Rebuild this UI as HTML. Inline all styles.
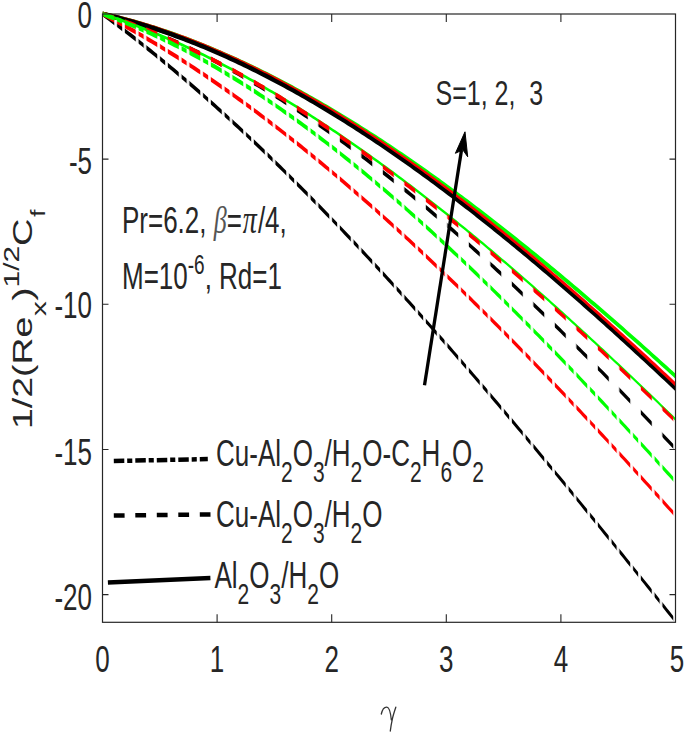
<!DOCTYPE html><html><head><meta charset="utf-8"><style>html,body{margin:0;padding:0;background:#fff;}svg{display:block;}text{font-family:"Liberation Sans",sans-serif;fill:#262626;}.s{font-family:"Liberation Serif",serif;font-style:italic;}</style></head><body>
<svg width="685" height="735" viewBox="0 0 685 735">
<rect width="685" height="735" fill="#fff"/>
<defs>
<pattern id="pdd" x="102.5" y="0" width="21.5" height="735" patternUnits="userSpaceOnUse"><rect x="0.8" y="0" width="11.0" height="735" fill="#fff"/><rect x="14.5" y="0" width="5.2" height="735" fill="#fff"/></pattern>
<pattern id="pda" x="102.5" y="0" width="21.5" height="735" patternUnits="userSpaceOnUse"><rect x="0.8" y="0" width="11.0" height="735" fill="#fff"/></pattern>
<mask id="mdd" maskUnits="userSpaceOnUse" x="0" y="0" width="685" height="735"><rect x="0" y="0" width="685" height="735" fill="url(#pdd)"/></mask>
<mask id="mda" maskUnits="userSpaceOnUse" x="0" y="0" width="685" height="735"><rect x="0" y="0" width="685" height="735" fill="url(#pda)"/></mask>
<clipPath id="ax"><rect x="102.5" y="10" width="573" height="612.3"/></clipPath>
</defs>
<g clip-path="url(#ax)">
<path d="M102.50,11.50 L105.38,12.15 L108.26,12.82 L111.14,13.50 L114.02,14.20 L116.90,14.91 L119.78,15.64 L122.66,16.39 L125.54,17.14 L128.41,17.92 L131.29,18.71 L134.17,19.51 L137.05,20.33 L139.93,21.17 L142.81,22.02 L145.69,22.88 L148.57,23.76 L151.45,24.66 L154.33,25.57 L157.21,26.49 L160.09,27.43 L162.97,28.38 L165.85,29.35 L168.73,30.33 L171.61,31.33 L174.48,32.34 L177.36,33.36 L180.24,34.40 L183.12,35.46 L186.00,36.52 L188.88,37.60 L191.76,38.70 L194.64,39.81 L197.52,40.93 L200.40,42.07 L203.28,43.22 L206.16,44.38 L209.04,45.56 L211.92,46.75 L214.80,47.95 L217.68,49.17 L220.56,50.40 L223.43,51.65 L226.31,52.90 L229.19,54.17 L232.07,55.46 L234.95,56.76 L237.83,58.07 L240.71,59.39 L243.59,60.72 L246.47,62.07 L249.35,63.44 L252.23,64.81 L255.11,66.20 L257.99,67.60 L260.87,69.01 L263.75,70.43 L266.63,71.87 L269.51,73.32 L272.38,74.78 L275.26,76.25 L278.14,77.74 L281.02,79.24 L283.90,80.75 L286.78,82.27 L289.66,83.81 L292.54,85.35 L295.42,86.91 L298.30,88.48 L301.18,90.06 L304.06,91.65 L306.94,93.26 L309.82,94.88 L312.70,96.50 L315.58,98.14 L318.45,99.79 L321.33,101.46 L324.21,103.13 L327.09,104.81 L329.97,106.51 L332.85,108.22 L335.73,109.93 L338.61,111.66 L341.49,113.40 L344.37,115.15 L347.25,116.91 L350.13,118.68 L353.01,120.47 L355.89,122.26 L358.77,124.06 L361.65,125.88 L364.53,127.70 L367.40,129.54 L370.28,131.38 L373.16,133.24 L376.04,135.11 L378.92,136.98 L381.80,138.87 L384.68,140.76 L387.56,142.67 L390.44,144.59 L393.32,146.51 L396.20,148.45 L399.08,150.39 L401.96,152.35 L404.84,154.31 L407.72,156.29 L410.60,158.27 L413.47,160.26 L416.35,162.27 L419.23,164.28 L422.11,166.30 L424.99,168.33 L427.87,170.37 L430.75,172.42 L433.63,174.48 L436.51,176.54 L439.39,178.62 L442.27,180.71 L445.15,182.80 L448.03,184.90 L450.91,187.01 L453.79,189.13 L456.67,191.26 L459.55,193.40 L462.42,195.54 L465.30,197.69 L468.18,199.86 L471.06,202.03 L473.94,204.20 L476.82,206.39 L479.70,208.59 L482.58,210.79 L485.46,213.00 L488.34,215.22 L491.22,217.44 L494.10,219.68 L496.98,221.92 L499.86,224.17 L502.74,226.43 L505.62,228.69 L508.49,230.96 L511.37,233.24 L514.25,235.53 L517.13,237.83 L520.01,240.13 L522.89,242.44 L525.77,244.75 L528.65,247.08 L531.53,249.41 L534.41,251.75 L537.29,254.09 L540.17,256.44 L543.05,258.80 L545.93,261.16 L548.81,263.54 L551.69,265.91 L554.57,268.30 L557.44,270.69 L560.32,273.09 L563.20,275.49 L566.08,277.90 L568.96,280.32 L571.84,282.74 L574.72,285.17 L577.60,287.61 L580.48,290.05 L583.36,292.50 L586.24,294.95 L589.12,297.41 L592.00,299.88 L594.88,302.35 L597.76,304.83 L600.64,307.31 L603.52,309.80 L606.39,312.29 L609.27,314.79 L612.15,317.29 L615.03,319.80 L617.91,322.32 L620.79,324.84 L623.67,327.36 L626.55,329.89 L629.43,332.43 L632.31,334.97 L635.19,337.52 L638.07,340.07 L640.95,342.62 L643.83,345.18 L646.71,347.75 L649.59,350.32 L652.46,352.89 L655.34,355.47 L658.22,358.06 L661.10,360.64 L663.98,363.24 L666.86,365.83 L669.74,368.43 L672.62,371.04 L675.50,373.65 L675.50,378.65 L672.62,376.04 L669.74,373.43 L666.86,370.83 L663.98,368.24 L661.10,365.64 L658.22,363.06 L655.34,360.47 L652.46,357.89 L649.59,355.32 L646.71,352.75 L643.83,350.18 L640.95,347.62 L638.07,345.07 L635.19,342.52 L632.31,339.97 L629.43,337.43 L626.55,334.89 L623.67,332.36 L620.79,329.84 L617.91,327.32 L615.03,324.80 L612.15,322.29 L609.27,319.79 L606.39,317.29 L603.52,314.80 L600.64,312.31 L597.76,309.83 L594.88,307.35 L592.00,304.88 L589.12,302.41 L586.24,299.95 L583.36,297.50 L580.48,295.05 L577.60,292.61 L574.72,290.17 L571.84,287.74 L568.96,285.32 L566.08,282.90 L563.20,280.49 L560.32,278.09 L557.44,275.69 L554.57,273.30 L551.69,270.91 L548.81,268.54 L545.93,266.16 L543.05,263.80 L540.17,261.44 L537.29,259.09 L534.41,256.75 L531.53,254.41 L528.65,252.08 L525.77,249.75 L522.89,247.44 L520.01,245.13 L517.13,242.83 L514.25,240.53 L511.37,238.24 L508.49,235.96 L505.62,233.69 L502.74,231.43 L499.86,229.17 L496.98,226.92 L494.10,224.68 L491.22,222.44 L488.34,220.22 L485.46,218.00 L482.58,215.79 L479.70,213.59 L476.82,211.39 L473.94,209.20 L471.06,207.03 L468.18,204.86 L465.30,202.69 L462.42,200.54 L459.55,198.40 L456.67,196.26 L453.79,194.13 L450.91,192.01 L448.03,189.90 L445.15,187.80 L442.27,185.71 L439.39,183.62 L436.51,181.54 L433.63,179.48 L430.75,177.42 L427.87,175.37 L424.99,173.33 L422.11,171.30 L419.23,169.28 L416.35,167.27 L413.47,165.26 L410.60,163.27 L407.72,161.29 L404.84,159.31 L401.96,157.35 L399.08,155.39 L396.20,153.45 L393.32,151.51 L390.44,149.59 L387.56,147.67 L384.68,145.76 L381.80,143.87 L378.92,141.98 L376.04,140.11 L373.16,138.24 L370.28,136.38 L367.40,134.54 L364.53,132.70 L361.65,130.88 L358.77,129.06 L355.89,127.26 L353.01,125.47 L350.13,123.68 L347.25,121.91 L344.37,120.15 L341.49,118.40 L338.61,116.66 L335.73,114.93 L332.85,113.22 L329.97,111.51 L327.09,109.81 L324.21,108.13 L321.33,106.46 L318.45,104.79 L315.58,103.14 L312.70,101.50 L309.82,99.88 L306.94,98.26 L304.06,96.65 L301.18,95.06 L298.30,93.48 L295.42,91.91 L292.54,90.35 L289.66,88.81 L286.78,87.27 L283.90,85.75 L281.02,84.24 L278.14,82.74 L275.26,81.25 L272.38,79.78 L269.51,78.32 L266.63,76.87 L263.75,75.43 L260.87,74.01 L257.99,72.60 L255.11,71.20 L252.23,69.81 L249.35,68.44 L246.47,67.07 L243.59,65.72 L240.71,64.39 L237.83,63.07 L234.95,61.76 L232.07,60.46 L229.19,59.17 L226.31,57.90 L223.43,56.65 L220.56,55.40 L217.68,54.17 L214.80,52.95 L211.92,51.75 L209.04,50.56 L206.16,49.38 L203.28,48.22 L200.40,47.07 L197.52,45.93 L194.64,44.81 L191.76,43.70 L188.88,42.60 L186.00,41.52 L183.12,40.46 L180.24,39.40 L177.36,38.36 L174.48,37.34 L171.61,36.33 L168.73,35.33 L165.85,34.35 L162.97,33.38 L160.09,32.43 L157.21,31.49 L154.33,30.57 L151.45,29.66 L148.57,28.76 L145.69,27.88 L142.81,27.02 L139.93,26.17 L137.05,25.33 L134.17,24.51 L131.29,23.71 L128.41,22.92 L125.54,22.14 L122.66,21.39 L119.78,20.64 L116.90,19.91 L114.02,19.20 L111.14,18.50 L108.26,17.82 L105.38,17.15 L102.50,16.50 Z" fill="#00ff00"/>
<path d="M102.50,11.60 L105.38,12.24 L108.26,12.90 L111.14,13.58 L114.02,14.27 L116.90,14.98 L119.78,15.71 L122.66,16.45 L125.54,17.20 L128.41,17.97 L131.29,18.76 L134.17,19.56 L137.05,20.38 L139.93,21.22 L142.81,22.07 L145.69,22.93 L148.57,23.81 L151.45,24.71 L154.33,25.62 L157.21,26.54 L160.09,27.48 L162.97,28.44 L165.85,29.41 L168.73,30.40 L171.61,31.40 L174.48,32.41 L177.36,33.44 L180.24,34.49 L183.12,35.55 L186.00,36.62 L188.88,37.71 L191.76,38.81 L194.64,39.93 L197.52,41.06 L200.40,42.20 L203.28,43.36 L206.16,44.54 L209.04,45.73 L211.92,46.93 L214.80,48.15 L217.68,49.38 L220.56,50.62 L223.43,51.88 L226.31,53.15 L229.19,54.43 L232.07,55.73 L234.95,57.05 L237.83,58.37 L240.71,59.71 L243.59,61.06 L246.47,62.43 L249.35,63.81 L252.23,65.20 L255.11,66.61 L257.99,68.03 L260.87,69.46 L263.75,70.90 L266.63,72.36 L269.51,73.83 L272.38,75.32 L275.26,76.81 L278.14,78.32 L281.02,79.84 L283.90,81.38 L286.78,82.92 L289.66,84.48 L292.54,86.05 L295.42,87.64 L298.30,89.23 L301.18,90.84 L304.06,92.46 L306.94,94.09 L309.82,95.74 L312.70,97.40 L315.58,99.06 L318.45,100.75 L321.33,102.44 L324.21,104.14 L327.09,105.86 L329.97,107.58 L332.85,109.32 L335.73,111.07 L338.61,112.84 L341.49,114.61 L344.37,116.39 L347.25,118.19 L350.13,120.00 L353.01,121.82 L355.89,123.64 L358.77,125.49 L361.65,127.34 L364.53,129.20 L367.40,131.07 L370.28,132.96 L373.16,134.85 L376.04,136.76 L378.92,138.67 L381.80,140.60 L384.68,142.54 L387.56,144.49 L390.44,146.44 L393.32,148.41 L396.20,150.39 L399.08,152.38 L401.96,154.38 L404.84,156.39 L407.72,158.41 L410.60,160.44 L413.47,162.48 L416.35,164.53 L419.23,166.59 L422.11,168.66 L424.99,170.74 L427.87,172.82 L430.75,174.92 L433.63,177.03 L436.51,179.15 L439.39,181.27 L442.27,183.41 L445.15,185.55 L448.03,187.71 L450.91,189.87 L453.79,192.05 L456.67,194.23 L459.55,196.42 L462.42,198.62 L465.30,200.83 L468.18,203.04 L471.06,205.27 L473.94,207.51 L476.82,209.75 L479.70,212.00 L482.58,214.26 L485.46,216.53 L488.34,218.81 L491.22,221.10 L494.10,223.39 L496.98,225.69 L499.86,228.00 L502.74,230.32 L505.62,232.65 L508.49,234.99 L511.37,237.33 L514.25,239.68 L517.13,242.04 L520.01,244.40 L522.89,246.78 L525.77,249.16 L528.65,251.55 L531.53,253.95 L534.41,256.35 L537.29,258.77 L540.17,261.18 L543.05,263.61 L545.93,266.05 L548.81,268.49 L551.69,270.94 L554.57,273.39 L557.44,275.85 L560.32,278.32 L563.20,280.80 L566.08,283.28 L568.96,285.77 L571.84,288.27 L574.72,290.77 L577.60,293.28 L580.48,295.80 L583.36,298.32 L586.24,300.85 L589.12,303.39 L592.00,305.93 L594.88,308.48 L597.76,311.04 L600.64,313.60 L603.52,316.16 L606.39,318.74 L609.27,321.32 L612.15,323.90 L615.03,326.49 L617.91,329.09 L620.79,331.69 L623.67,334.30 L626.55,336.92 L629.43,339.53 L632.31,342.16 L635.19,344.79 L638.07,347.43 L640.95,350.07 L643.83,352.71 L646.71,355.37 L649.59,358.02 L652.46,360.68 L655.34,363.35 L658.22,366.02 L661.10,368.70 L663.98,371.38 L666.86,374.07 L669.74,376.76 L672.62,379.46 L675.50,382.16 L675.50,386.96 L672.62,384.26 L669.74,381.56 L666.86,378.87 L663.98,376.18 L661.10,373.50 L658.22,370.82 L655.34,368.15 L652.46,365.48 L649.59,362.82 L646.71,360.17 L643.83,357.51 L640.95,354.87 L638.07,352.23 L635.19,349.59 L632.31,346.96 L629.43,344.33 L626.55,341.72 L623.67,339.10 L620.79,336.49 L617.91,333.89 L615.03,331.29 L612.15,328.70 L609.27,326.12 L606.39,323.54 L603.52,320.96 L600.64,318.40 L597.76,315.84 L594.88,313.28 L592.00,310.73 L589.12,308.19 L586.24,305.65 L583.36,303.12 L580.48,300.60 L577.60,298.08 L574.72,295.57 L571.84,293.07 L568.96,290.57 L566.08,288.08 L563.20,285.60 L560.32,283.12 L557.44,280.65 L554.57,278.19 L551.69,275.74 L548.81,273.29 L545.93,270.85 L543.05,268.41 L540.17,265.98 L537.29,263.57 L534.41,261.15 L531.53,258.75 L528.65,256.35 L525.77,253.96 L522.89,251.58 L520.01,249.20 L517.13,246.84 L514.25,244.48 L511.37,242.13 L508.49,239.79 L505.62,237.45 L502.74,235.12 L499.86,232.80 L496.98,230.49 L494.10,228.19 L491.22,225.90 L488.34,223.61 L485.46,221.33 L482.58,219.06 L479.70,216.80 L476.82,214.55 L473.94,212.31 L471.06,210.07 L468.18,207.84 L465.30,205.63 L462.42,203.42 L459.55,201.22 L456.67,199.03 L453.79,196.85 L450.91,194.67 L448.03,192.51 L445.15,190.35 L442.27,188.21 L439.39,186.07 L436.51,183.95 L433.63,181.83 L430.75,179.72 L427.87,177.62 L424.99,175.54 L422.11,173.46 L419.23,171.39 L416.35,169.33 L413.47,167.28 L410.60,165.24 L407.72,163.21 L404.84,161.19 L401.96,159.18 L399.08,157.18 L396.20,155.19 L393.32,153.21 L390.44,151.24 L387.56,149.29 L384.68,147.34 L381.80,145.40 L378.92,143.47 L376.04,141.56 L373.16,139.65 L370.28,137.76 L367.40,135.87 L364.53,134.00 L361.65,132.14 L358.77,130.29 L355.89,128.44 L353.01,126.62 L350.13,124.80 L347.25,122.99 L344.37,121.19 L341.49,119.41 L338.61,117.64 L335.73,115.87 L332.85,114.12 L329.97,112.38 L327.09,110.66 L324.21,108.94 L321.33,107.24 L318.45,105.55 L315.58,103.86 L312.70,102.20 L309.82,100.54 L306.94,98.89 L304.06,97.26 L301.18,95.64 L298.30,94.03 L295.42,92.44 L292.54,90.85 L289.66,89.28 L286.78,87.72 L283.90,86.18 L281.02,84.64 L278.14,83.12 L275.26,81.61 L272.38,80.12 L269.51,78.63 L266.63,77.16 L263.75,75.70 L260.87,74.26 L257.99,72.83 L255.11,71.41 L252.23,70.00 L249.35,68.61 L246.47,67.23 L243.59,65.86 L240.71,64.51 L237.83,63.17 L234.95,61.85 L232.07,60.53 L229.19,59.23 L226.31,57.95 L223.43,56.68 L220.56,55.42 L217.68,54.18 L214.80,52.95 L211.92,51.73 L209.04,50.53 L206.16,49.34 L203.28,48.16 L200.40,47.00 L197.52,45.86 L194.64,44.73 L191.76,43.61 L188.88,42.51 L186.00,41.42 L183.12,40.35 L180.24,39.29 L177.36,38.24 L174.48,37.21 L171.61,36.20 L168.73,35.20 L165.85,34.21 L162.97,33.24 L160.09,32.28 L157.21,31.34 L154.33,30.42 L151.45,29.51 L148.57,28.61 L145.69,27.73 L142.81,26.87 L139.93,26.02 L137.05,25.18 L134.17,24.36 L131.29,23.56 L128.41,22.77 L125.54,22.00 L122.66,21.25 L119.78,20.51 L116.90,19.78 L114.02,19.07 L111.14,18.38 L108.26,17.70 L105.38,17.04 L102.50,16.40 Z" fill="#ff0000"/>
<path d="M102.50,11.60 L105.38,12.27 L108.26,12.96 L111.14,13.67 L114.02,14.39 L116.90,15.12 L119.78,15.87 L122.66,16.64 L125.54,17.43 L128.41,18.23 L131.29,19.04 L134.17,19.87 L137.05,20.72 L139.93,21.58 L142.81,22.45 L145.69,23.35 L148.57,24.25 L151.45,25.18 L154.33,26.11 L157.21,27.07 L160.09,28.03 L162.97,29.02 L165.85,30.01 L168.73,31.03 L171.61,32.05 L174.48,33.10 L177.36,34.15 L180.24,35.22 L183.12,36.31 L186.00,37.41 L188.88,38.52 L191.76,39.65 L194.64,40.80 L197.52,41.95 L200.40,43.13 L203.28,44.31 L206.16,45.51 L209.04,46.72 L211.92,47.95 L214.80,49.19 L217.68,50.45 L220.56,51.72 L223.43,53.00 L226.31,54.30 L229.19,55.61 L232.07,56.93 L234.95,58.27 L237.83,59.62 L240.71,60.99 L243.59,62.36 L246.47,63.76 L249.35,65.16 L252.23,66.58 L255.11,68.01 L257.99,69.45 L260.87,70.91 L263.75,72.38 L266.63,73.86 L269.51,75.35 L272.38,76.86 L275.26,78.38 L278.14,79.91 L281.02,81.46 L283.90,83.02 L286.78,84.59 L289.66,86.17 L292.54,87.77 L295.42,89.37 L298.30,90.99 L301.18,92.63 L304.06,94.27 L306.94,95.93 L309.82,97.59 L312.70,99.27 L315.58,100.97 L318.45,102.67 L321.33,104.38 L324.21,106.11 L327.09,107.85 L329.97,109.60 L332.85,111.36 L335.73,113.13 L338.61,114.92 L341.49,116.71 L344.37,118.52 L347.25,120.34 L350.13,122.17 L353.01,124.01 L355.89,125.86 L358.77,127.72 L361.65,129.60 L364.53,131.48 L367.40,133.38 L370.28,135.28 L373.16,137.20 L376.04,139.13 L378.92,141.07 L381.80,143.02 L384.68,144.97 L387.56,146.94 L390.44,148.92 L393.32,150.91 L396.20,152.91 L399.08,154.92 L401.96,156.94 L404.84,158.97 L407.72,161.02 L410.60,163.07 L413.47,165.13 L416.35,167.20 L419.23,169.28 L422.11,171.37 L424.99,173.47 L427.87,175.57 L430.75,177.69 L433.63,179.82 L436.51,181.96 L439.39,184.10 L442.27,186.26 L445.15,188.43 L448.03,190.60 L450.91,192.78 L453.79,194.98 L456.67,197.18 L459.55,199.39 L462.42,201.61 L465.30,203.84 L468.18,206.07 L471.06,208.32 L473.94,210.57 L476.82,212.84 L479.70,215.11 L482.58,217.39 L485.46,219.68 L488.34,221.97 L491.22,224.28 L494.10,226.59 L496.98,228.91 L499.86,231.24 L502.74,233.58 L505.62,235.93 L508.49,238.28 L511.37,240.64 L514.25,243.01 L517.13,245.39 L520.01,247.77 L522.89,250.16 L525.77,252.57 L528.65,254.97 L531.53,257.39 L534.41,259.81 L537.29,262.24 L540.17,264.68 L543.05,267.12 L545.93,269.57 L548.81,272.03 L551.69,274.50 L554.57,276.97 L557.44,279.45 L560.32,281.94 L563.20,284.43 L566.08,286.93 L568.96,289.44 L571.84,291.95 L574.72,294.48 L577.60,297.00 L580.48,299.54 L583.36,302.08 L586.24,304.62 L589.12,307.18 L592.00,309.73 L594.88,312.30 L597.76,314.87 L600.64,317.45 L603.52,320.03 L606.39,322.62 L609.27,325.22 L612.15,327.82 L615.03,330.42 L617.91,333.04 L620.79,335.66 L623.67,338.28 L626.55,340.91 L629.43,343.54 L632.31,346.18 L635.19,348.83 L638.07,351.48 L640.95,354.14 L643.83,356.80 L646.71,359.47 L649.59,362.14 L652.46,364.82 L655.34,367.50 L658.22,370.19 L661.10,372.88 L663.98,375.57 L666.86,378.28 L669.74,380.98 L672.62,383.69 L675.50,386.41 L675.50,391.21 L672.62,388.49 L669.74,385.78 L666.86,383.08 L663.98,380.37 L661.10,377.68 L658.22,374.99 L655.34,372.30 L652.46,369.62 L649.59,366.94 L646.71,364.27 L643.83,361.60 L640.95,358.94 L638.07,356.28 L635.19,353.63 L632.31,350.98 L629.43,348.34 L626.55,345.71 L623.67,343.08 L620.79,340.46 L617.91,337.84 L615.03,335.22 L612.15,332.62 L609.27,330.02 L606.39,327.42 L603.52,324.83 L600.64,322.25 L597.76,319.67 L594.88,317.10 L592.00,314.53 L589.12,311.98 L586.24,309.42 L583.36,306.88 L580.48,304.34 L577.60,301.80 L574.72,299.28 L571.84,296.75 L568.96,294.24 L566.08,291.73 L563.20,289.23 L560.32,286.74 L557.44,284.25 L554.57,281.77 L551.69,279.30 L548.81,276.83 L545.93,274.37 L543.05,271.92 L540.17,269.48 L537.29,267.04 L534.41,264.61 L531.53,262.19 L528.65,259.77 L525.77,257.37 L522.89,254.96 L520.01,252.57 L517.13,250.19 L514.25,247.81 L511.37,245.44 L508.49,243.08 L505.62,240.73 L502.74,238.38 L499.86,236.04 L496.98,233.71 L494.10,231.39 L491.22,229.08 L488.34,226.77 L485.46,224.48 L482.58,222.19 L479.70,219.91 L476.82,217.64 L473.94,215.37 L471.06,213.12 L468.18,210.87 L465.30,208.64 L462.42,206.41 L459.55,204.19 L456.67,201.98 L453.79,199.78 L450.91,197.58 L448.03,195.40 L445.15,193.23 L442.27,191.06 L439.39,188.90 L436.51,186.76 L433.63,184.62 L430.75,182.49 L427.87,180.37 L424.99,178.27 L422.11,176.17 L419.23,174.08 L416.35,172.00 L413.47,169.93 L410.60,167.87 L407.72,165.82 L404.84,163.77 L401.96,161.74 L399.08,159.72 L396.20,157.71 L393.32,155.71 L390.44,153.72 L387.56,151.74 L384.68,149.77 L381.80,147.82 L378.92,145.87 L376.04,143.93 L373.16,142.00 L370.28,140.08 L367.40,138.18 L364.53,136.28 L361.65,134.40 L358.77,132.52 L355.89,130.66 L353.01,128.81 L350.13,126.97 L347.25,125.14 L344.37,123.32 L341.49,121.51 L338.61,119.72 L335.73,117.93 L332.85,116.16 L329.97,114.40 L327.09,112.65 L324.21,110.91 L321.33,109.18 L318.45,107.47 L315.58,105.77 L312.70,104.07 L309.82,102.39 L306.94,100.73 L304.06,99.07 L301.18,97.43 L298.30,95.79 L295.42,94.17 L292.54,92.57 L289.66,90.97 L286.78,89.39 L283.90,87.82 L281.02,86.26 L278.14,84.71 L275.26,83.18 L272.38,81.66 L269.51,80.15 L266.63,78.66 L263.75,77.18 L260.87,75.71 L257.99,74.25 L255.11,72.81 L252.23,71.38 L249.35,69.96 L246.47,68.56 L243.59,67.16 L240.71,65.79 L237.83,64.42 L234.95,63.07 L232.07,61.73 L229.19,60.41 L226.31,59.10 L223.43,57.80 L220.56,56.52 L217.68,55.25 L214.80,53.99 L211.92,52.75 L209.04,51.52 L206.16,50.31 L203.28,49.11 L200.40,47.93 L197.52,46.75 L194.64,45.60 L191.76,44.45 L188.88,43.32 L186.00,42.21 L183.12,41.11 L180.24,40.02 L177.36,38.95 L174.48,37.90 L171.61,36.85 L168.73,35.83 L165.85,34.81 L162.97,33.82 L160.09,32.83 L157.21,31.87 L154.33,30.91 L151.45,29.98 L148.57,29.05 L145.69,28.15 L142.81,27.25 L139.93,26.38 L137.05,25.52 L134.17,24.67 L131.29,23.84 L128.41,23.03 L125.54,22.23 L122.66,21.44 L119.78,20.67 L116.90,19.92 L114.02,19.19 L111.14,18.47 L108.26,17.76 L105.38,17.07 L102.50,16.40 Z" fill="#000000"/>
<path d="M102.50,12.50 L105.38,13.43 L108.26,14.37 L111.14,15.33 L114.02,16.30 L116.90,17.29 L119.78,18.29 L122.66,19.31 L125.54,20.34 L128.41,21.38 L131.29,22.44 L134.17,23.51 L137.05,24.60 L139.93,25.70 L142.81,26.81 L145.69,27.94 L148.57,29.08 L151.45,30.24 L154.33,31.41 L157.21,32.59 L160.09,33.79 L162.97,35.00 L165.85,36.22 L168.73,37.46 L171.61,38.71 L174.48,39.98 L177.36,41.26 L180.24,42.55 L183.12,43.85 L186.00,45.17 L188.88,46.50 L191.76,47.84 L194.64,49.20 L197.52,50.57 L200.40,51.95 L203.28,53.35 L206.16,54.76 L209.04,56.18 L211.92,57.61 L214.80,59.06 L217.68,60.52 L220.56,61.99 L223.43,63.48 L226.31,64.97 L229.19,66.48 L232.07,68.00 L234.95,69.54 L237.83,71.09 L240.71,72.64 L243.59,74.21 L246.47,75.80 L249.35,77.39 L252.23,79.00 L255.11,80.62 L257.99,82.25 L260.87,83.89 L263.75,85.55 L266.63,87.21 L269.51,88.89 L272.38,90.58 L275.26,92.28 L278.14,93.99 L281.02,95.72 L283.90,97.45 L286.78,99.20 L289.66,100.96 L292.54,102.73 L295.42,104.51 L298.30,106.30 L301.18,108.10 L304.06,109.92 L306.94,111.74 L309.82,113.58 L312.70,115.43 L315.58,117.28 L318.45,119.15 L321.33,121.03 L324.21,122.92 L327.09,124.82 L329.97,126.74 L332.85,128.66 L335.73,130.59 L338.61,132.53 L341.49,134.49 L344.37,136.45 L347.25,138.42 L350.13,140.41 L353.01,142.40 L355.89,144.41 L358.77,146.42 L361.65,148.45 L364.53,150.48 L367.40,152.53 L370.28,154.58 L373.16,156.65 L376.04,158.72 L378.92,160.80 L381.80,162.90 L384.68,165.00 L387.56,167.11 L390.44,169.24 L393.32,171.37 L396.20,173.51 L399.08,175.66 L401.96,177.82 L404.84,179.99 L407.72,182.17 L410.60,184.36 L413.47,186.55 L416.35,188.76 L419.23,190.97 L422.11,193.20 L424.99,195.43 L427.87,197.67 L430.75,199.92 L433.63,202.18 L436.51,204.45 L439.39,206.72 L442.27,209.01 L445.15,211.30 L448.03,213.60 L450.91,215.91 L453.79,218.23 L456.67,220.56 L459.55,222.90 L462.42,225.24 L465.30,227.59 L468.18,229.95 L471.06,232.32 L473.94,234.70 L476.82,237.08 L479.70,239.47 L482.58,241.87 L485.46,244.28 L488.34,246.69 L491.22,249.12 L494.10,251.55 L496.98,253.99 L499.86,256.43 L502.74,258.89 L505.62,261.35 L508.49,263.82 L511.37,266.29 L514.25,268.77 L517.13,271.26 L520.01,273.76 L522.89,276.27 L525.77,278.78 L528.65,281.30 L531.53,283.82 L534.41,286.36 L537.29,288.90 L540.17,291.44 L543.05,293.99 L545.93,296.55 L548.81,299.12 L551.69,301.69 L554.57,304.27 L557.44,306.86 L560.32,309.45 L563.20,312.05 L566.08,314.66 L568.96,317.27 L571.84,319.89 L574.72,322.51 L577.60,325.14 L580.48,327.78 L583.36,330.42 L586.24,333.07 L589.12,335.73 L592.00,338.39 L594.88,341.05 L597.76,343.72 L600.64,346.40 L603.52,349.09 L606.39,351.78 L609.27,354.47 L612.15,357.17 L615.03,359.88 L617.91,362.59 L620.79,365.31 L623.67,368.03 L626.55,370.75 L629.43,373.49 L632.31,376.23 L635.19,378.97 L638.07,381.72 L640.95,384.47 L643.83,387.23 L646.71,389.99 L649.59,392.76 L652.46,395.53 L655.34,398.31 L658.22,401.09 L661.10,403.88 L663.98,406.67 L666.86,409.46 L669.74,412.26 L672.62,415.07 L675.50,417.88 L675.50,420.88 L672.62,418.07 L669.74,415.26 L666.86,412.46 L663.98,409.67 L661.10,406.88 L658.22,404.09 L655.34,401.31 L652.46,398.53 L649.59,395.76 L646.71,392.99 L643.83,390.23 L640.95,387.47 L638.07,384.72 L635.19,381.97 L632.31,379.23 L629.43,376.49 L626.55,373.75 L623.67,371.03 L620.79,368.31 L617.91,365.59 L615.03,362.88 L612.15,360.17 L609.27,357.47 L606.39,354.78 L603.52,352.09 L600.64,349.40 L597.76,346.72 L594.88,344.05 L592.00,341.39 L589.12,338.73 L586.24,336.07 L583.36,333.42 L580.48,330.78 L577.60,328.14 L574.72,325.51 L571.84,322.89 L568.96,320.27 L566.08,317.66 L563.20,315.05 L560.32,312.45 L557.44,309.86 L554.57,307.27 L551.69,304.69 L548.81,302.12 L545.93,299.55 L543.05,296.99 L540.17,294.44 L537.29,291.90 L534.41,289.36 L531.53,286.82 L528.65,284.30 L525.77,281.78 L522.89,279.27 L520.01,276.76 L517.13,274.26 L514.25,271.77 L511.37,269.29 L508.49,266.82 L505.62,264.35 L502.74,261.89 L499.86,259.43 L496.98,256.99 L494.10,254.55 L491.22,252.12 L488.34,249.69 L485.46,247.28 L482.58,244.87 L479.70,242.47 L476.82,240.08 L473.94,237.70 L471.06,235.32 L468.18,232.95 L465.30,230.59 L462.42,228.24 L459.55,225.90 L456.67,223.56 L453.79,221.23 L450.91,218.91 L448.03,216.60 L445.15,214.30 L442.27,212.01 L439.39,209.72 L436.51,207.45 L433.63,205.18 L430.75,202.92 L427.87,200.67 L424.99,198.43 L422.11,196.20 L419.23,193.97 L416.35,191.76 L413.47,189.55 L410.60,187.36 L407.72,185.17 L404.84,182.99 L401.96,180.82 L399.08,178.66 L396.20,176.51 L393.32,174.37 L390.44,172.24 L387.56,170.11 L384.68,168.00 L381.80,165.90 L378.92,163.80 L376.04,161.72 L373.16,159.65 L370.28,157.58 L367.40,155.53 L364.53,153.48 L361.65,151.45 L358.77,149.42 L355.89,147.41 L353.01,145.40 L350.13,143.41 L347.25,141.42 L344.37,139.45 L341.49,137.49 L338.61,135.53 L335.73,133.59 L332.85,131.66 L329.97,129.74 L327.09,127.82 L324.21,125.92 L321.33,124.03 L318.45,122.15 L315.58,120.28 L312.70,118.43 L309.82,116.58 L306.94,114.74 L304.06,112.92 L301.18,111.10 L298.30,109.30 L295.42,107.51 L292.54,105.73 L289.66,103.96 L286.78,102.20 L283.90,100.45 L281.02,98.72 L278.14,96.99 L275.26,95.28 L272.38,93.58 L269.51,91.89 L266.63,90.21 L263.75,88.55 L260.87,86.89 L257.99,85.25 L255.11,83.62 L252.23,82.00 L249.35,80.39 L246.47,78.80 L243.59,77.21 L240.71,75.64 L237.83,74.09 L234.95,72.54 L232.07,71.00 L229.19,69.48 L226.31,67.97 L223.43,66.48 L220.56,64.99 L217.68,63.52 L214.80,62.06 L211.92,60.61 L209.04,59.18 L206.16,57.76 L203.28,56.35 L200.40,54.95 L197.52,53.57 L194.64,52.20 L191.76,50.84 L188.88,49.50 L186.00,48.17 L183.12,46.85 L180.24,45.55 L177.36,44.26 L174.48,42.98 L171.61,41.71 L168.73,40.46 L165.85,39.22 L162.97,38.00 L160.09,36.79 L157.21,35.59 L154.33,34.41 L151.45,33.24 L148.57,32.08 L145.69,30.94 L142.81,29.81 L139.93,28.70 L137.05,27.60 L134.17,26.51 L131.29,25.44 L128.41,24.38 L125.54,23.34 L122.66,22.31 L119.78,21.29 L116.90,20.29 L114.02,19.30 L111.14,18.33 L108.26,17.37 L105.38,16.43 L102.50,15.50 Z" fill="#00ff00"/>
<g mask="url(#mda)">
<path d="M102.50,11.65 L105.38,12.54 L108.26,13.45 L111.14,14.38 L114.02,15.32 L116.90,16.28 L119.78,17.26 L122.66,18.26 L125.54,19.27 L128.41,20.30 L131.29,21.34 L134.17,22.40 L137.05,23.48 L139.93,24.58 L142.81,25.69 L145.69,26.82 L148.57,27.96 L151.45,29.12 L154.33,30.30 L157.21,31.49 L160.09,32.70 L162.97,33.92 L165.85,35.16 L168.73,36.42 L171.61,37.69 L174.48,38.98 L177.36,40.28 L180.24,41.60 L183.12,42.94 L186.00,44.29 L188.88,45.65 L191.76,47.04 L194.64,48.43 L197.52,49.84 L200.40,51.27 L203.28,52.71 L206.16,54.17 L209.04,55.64 L211.92,57.13 L214.80,58.63 L217.68,60.15 L220.56,61.68 L223.43,63.22 L226.31,64.79 L229.19,66.36 L232.07,67.95 L234.95,69.55 L237.83,71.17 L240.71,72.81 L243.59,74.45 L246.47,76.11 L249.35,77.79 L252.23,79.48 L255.11,81.18 L257.99,82.90 L260.87,84.63 L263.75,86.38 L266.63,88.13 L269.51,89.91 L272.38,91.69 L275.26,93.49 L278.14,95.30 L281.02,97.13 L283.90,98.97 L286.78,100.82 L289.66,102.69 L292.54,104.57 L295.42,106.46 L298.30,108.37 L301.18,110.28 L304.06,112.22 L306.94,114.16 L309.82,116.12 L312.70,118.09 L315.58,120.07 L318.45,122.06 L321.33,124.07 L324.21,126.09 L327.09,128.12 L329.97,130.17 L332.85,132.23 L335.73,134.29 L338.61,136.38 L341.49,138.47 L344.37,140.57 L347.25,142.69 L350.13,144.82 L353.01,146.96 L355.89,149.11 L358.77,151.28 L361.65,153.46 L364.53,155.64 L367.40,157.84 L370.28,160.05 L373.16,162.27 L376.04,164.51 L378.92,166.75 L381.80,169.01 L384.68,171.28 L387.56,173.55 L390.44,175.84 L393.32,178.14 L396.20,180.45 L399.08,182.78 L401.96,185.11 L404.84,187.45 L407.72,189.80 L410.60,192.17 L413.47,194.54 L416.35,196.93 L419.23,199.33 L422.11,201.73 L424.99,204.15 L427.87,206.57 L430.75,209.01 L433.63,211.46 L436.51,213.91 L439.39,216.38 L442.27,218.86 L445.15,221.34 L448.03,223.84 L450.91,226.34 L453.79,228.86 L456.67,231.38 L459.55,233.92 L462.42,236.46 L465.30,239.02 L468.18,241.58 L471.06,244.15 L473.94,246.73 L476.82,249.32 L479.70,251.92 L482.58,254.53 L485.46,257.14 L488.34,259.77 L491.22,262.41 L494.10,265.05 L496.98,267.70 L499.86,270.36 L502.74,273.03 L505.62,275.71 L508.49,278.39 L511.37,281.09 L514.25,283.79 L517.13,286.50 L520.01,289.22 L522.89,291.95 L525.77,294.68 L528.65,297.43 L531.53,300.18 L534.41,302.94 L537.29,305.70 L540.17,308.48 L543.05,311.26 L545.93,314.05 L548.81,316.85 L551.69,319.65 L554.57,322.46 L557.44,325.28 L560.32,328.11 L563.20,330.94 L566.08,333.78 L568.96,336.63 L571.84,339.49 L574.72,342.35 L577.60,345.22 L580.48,348.10 L583.36,350.98 L586.24,353.87 L589.12,356.76 L592.00,359.67 L594.88,362.58 L597.76,365.49 L600.64,368.41 L603.52,371.34 L606.39,374.28 L609.27,377.22 L612.15,380.16 L615.03,383.12 L617.91,386.08 L620.79,389.04 L623.67,392.01 L626.55,394.99 L629.43,397.97 L632.31,400.96 L635.19,403.95 L638.07,406.95 L640.95,409.96 L643.83,412.97 L646.71,415.98 L649.59,419.01 L652.46,422.03 L655.34,425.06 L658.22,428.10 L661.10,431.14 L663.98,434.19 L666.86,437.24 L669.74,440.30 L672.62,443.36 L675.50,446.42 L675.50,451.12 L672.62,448.06 L669.74,445.00 L666.86,441.94 L663.98,438.89 L661.10,435.84 L658.22,432.80 L655.34,429.76 L652.46,426.73 L649.59,423.71 L646.71,420.68 L643.83,417.67 L640.95,414.66 L638.07,411.65 L635.19,408.65 L632.31,405.66 L629.43,402.67 L626.55,399.69 L623.67,396.71 L620.79,393.74 L617.91,390.78 L615.03,387.82 L612.15,384.86 L609.27,381.92 L606.39,378.98 L603.52,376.04 L600.64,373.11 L597.76,370.19 L594.88,367.28 L592.00,364.37 L589.12,361.46 L586.24,358.57 L583.36,355.68 L580.48,352.80 L577.60,349.92 L574.72,347.05 L571.84,344.19 L568.96,341.33 L566.08,338.48 L563.20,335.64 L560.32,332.81 L557.44,329.98 L554.57,327.16 L551.69,324.35 L548.81,321.55 L545.93,318.75 L543.05,315.96 L540.17,313.18 L537.29,310.40 L534.41,307.64 L531.53,304.88 L528.65,302.13 L525.77,299.38 L522.89,296.65 L520.01,293.92 L517.13,291.20 L514.25,288.49 L511.37,285.79 L508.49,283.09 L505.62,280.41 L502.74,277.73 L499.86,275.06 L496.98,272.40 L494.10,269.75 L491.22,267.11 L488.34,264.47 L485.46,261.84 L482.58,259.23 L479.70,256.62 L476.82,254.02 L473.94,251.43 L471.06,248.85 L468.18,246.28 L465.30,243.72 L462.42,241.16 L459.55,238.62 L456.67,236.08 L453.79,233.56 L450.91,231.04 L448.03,228.54 L445.15,226.04 L442.27,223.56 L439.39,221.08 L436.51,218.61 L433.63,216.16 L430.75,213.71 L427.87,211.27 L424.99,208.85 L422.11,206.43 L419.23,204.03 L416.35,201.63 L413.47,199.24 L410.60,196.87 L407.72,194.50 L404.84,192.15 L401.96,189.81 L399.08,187.48 L396.20,185.15 L393.32,182.84 L390.44,180.54 L387.56,178.25 L384.68,175.98 L381.80,173.71 L378.92,171.45 L376.04,169.21 L373.16,166.97 L370.28,164.75 L367.40,162.54 L364.53,160.34 L361.65,158.16 L358.77,155.98 L355.89,153.81 L353.01,151.66 L350.13,149.52 L347.25,147.39 L344.37,145.27 L341.49,143.17 L338.61,141.08 L335.73,138.99 L332.85,136.93 L329.97,134.87 L327.09,132.82 L324.21,130.79 L321.33,128.77 L318.45,126.76 L315.58,124.77 L312.70,122.79 L309.82,120.82 L306.94,118.86 L304.06,116.92 L301.18,114.98 L298.30,113.07 L295.42,111.16 L292.54,109.27 L289.66,107.39 L286.78,105.52 L283.90,103.67 L281.02,101.83 L278.14,100.00 L275.26,98.19 L272.38,96.39 L269.51,94.61 L266.63,92.83 L263.75,91.08 L260.87,89.33 L257.99,87.60 L255.11,85.88 L252.23,84.18 L249.35,82.49 L246.47,80.81 L243.59,79.15 L240.71,77.51 L237.83,75.87 L234.95,74.25 L232.07,72.65 L229.19,71.06 L226.31,69.49 L223.43,67.92 L220.56,66.38 L217.68,64.85 L214.80,63.33 L211.92,61.83 L209.04,60.34 L206.16,58.87 L203.28,57.41 L200.40,55.97 L197.52,54.54 L194.64,53.13 L191.76,51.74 L188.88,50.35 L186.00,48.99 L183.12,47.64 L180.24,46.30 L177.36,44.98 L174.48,43.68 L171.61,42.39 L168.73,41.12 L165.85,39.86 L162.97,38.62 L160.09,37.40 L157.21,36.19 L154.33,35.00 L151.45,33.82 L148.57,32.66 L145.69,31.52 L142.81,30.39 L139.93,29.28 L137.05,28.18 L134.17,27.10 L131.29,26.04 L128.41,25.00 L125.54,23.97 L122.66,22.96 L119.78,21.96 L116.90,20.98 L114.02,20.02 L111.14,19.08 L108.26,18.15 L105.38,17.24 L102.50,16.35 Z" fill="#000000"/>
<path d="M102.50,11.65 L105.38,12.57 L108.26,13.51 L111.14,14.47 L114.02,15.44 L116.90,16.42 L119.78,17.42 L122.66,18.44 L125.54,19.47 L128.41,20.51 L131.29,21.57 L134.17,22.65 L137.05,23.74 L139.93,24.84 L142.81,25.96 L145.69,27.09 L148.57,28.24 L151.45,29.40 L154.33,30.58 L157.21,31.77 L160.09,32.97 L162.97,34.19 L165.85,35.43 L168.73,36.67 L171.61,37.93 L174.48,39.21 L177.36,40.50 L180.24,41.80 L183.12,43.12 L186.00,44.45 L188.88,45.79 L191.76,47.15 L194.64,48.52 L197.52,49.90 L200.40,51.30 L203.28,52.71 L206.16,54.14 L209.04,55.58 L211.92,57.03 L214.80,58.49 L217.68,59.97 L220.56,61.46 L223.43,62.96 L226.31,64.47 L229.19,66.00 L232.07,67.54 L234.95,69.10 L237.83,70.66 L240.71,72.24 L243.59,73.83 L246.47,75.44 L249.35,77.05 L252.23,78.68 L255.11,80.32 L257.99,81.97 L260.87,83.64 L263.75,85.31 L266.63,87.00 L269.51,88.70 L272.38,90.41 L275.26,92.14 L278.14,93.87 L281.02,95.62 L283.90,97.38 L286.78,99.15 L289.66,100.93 L292.54,102.73 L295.42,104.53 L298.30,106.35 L301.18,108.18 L304.06,110.02 L306.94,111.87 L309.82,113.73 L312.70,115.60 L315.58,117.48 L318.45,119.37 L321.33,121.28 L324.21,123.19 L327.09,125.12 L329.97,127.06 L332.85,129.00 L335.73,130.96 L338.61,132.93 L341.49,134.91 L344.37,136.90 L347.25,138.90 L350.13,140.91 L353.01,142.93 L355.89,144.96 L358.77,147.00 L361.65,149.05 L364.53,151.10 L367.40,153.17 L370.28,155.25 L373.16,157.34 L376.04,159.44 L378.92,161.55 L381.80,163.67 L384.68,165.79 L387.56,167.93 L390.44,170.08 L393.32,172.23 L396.20,174.40 L399.08,176.57 L401.96,178.75 L404.84,180.94 L407.72,183.14 L410.60,185.35 L413.47,187.57 L416.35,189.80 L419.23,192.04 L422.11,194.28 L424.99,196.53 L427.87,198.80 L430.75,201.07 L433.63,203.35 L436.51,205.63 L439.39,207.93 L442.27,210.23 L445.15,212.55 L448.03,214.87 L450.91,217.19 L453.79,219.53 L456.67,221.87 L459.55,224.23 L462.42,226.59 L465.30,228.95 L468.18,231.33 L471.06,233.71 L473.94,236.10 L476.82,238.50 L479.70,240.91 L482.58,243.32 L485.46,245.74 L488.34,248.17 L491.22,250.60 L494.10,253.05 L496.98,255.50 L499.86,257.95 L502.74,260.42 L505.62,262.89 L508.49,265.36 L511.37,267.85 L514.25,270.34 L517.13,272.83 L520.01,275.34 L522.89,277.85 L525.77,280.37 L528.65,282.89 L531.53,285.42 L534.41,287.95 L537.29,290.50 L540.17,293.05 L543.05,295.60 L545.93,298.16 L548.81,300.73 L551.69,303.30 L554.57,305.88 L557.44,308.46 L560.32,311.05 L563.20,313.65 L566.08,316.25 L568.96,318.86 L571.84,321.47 L574.72,324.09 L577.60,326.71 L580.48,329.34 L583.36,331.97 L586.24,334.61 L589.12,337.26 L592.00,339.91 L594.88,342.56 L597.76,345.22 L600.64,347.88 L603.52,350.55 L606.39,353.23 L609.27,355.91 L612.15,358.59 L615.03,361.28 L617.91,363.97 L620.79,366.67 L623.67,369.37 L626.55,372.07 L629.43,374.78 L632.31,377.50 L635.19,380.22 L638.07,382.94 L640.95,385.67 L643.83,388.40 L646.71,391.13 L649.59,393.87 L652.46,396.61 L655.34,399.36 L658.22,402.11 L661.10,404.86 L663.98,407.62 L666.86,410.38 L669.74,413.14 L672.62,415.91 L675.50,418.68 L675.50,423.38 L672.62,420.61 L669.74,417.84 L666.86,415.08 L663.98,412.32 L661.10,409.56 L658.22,406.81 L655.34,404.06 L652.46,401.31 L649.59,398.57 L646.71,395.83 L643.83,393.10 L640.95,390.37 L638.07,387.64 L635.19,384.92 L632.31,382.20 L629.43,379.48 L626.55,376.77 L623.67,374.07 L620.79,371.37 L617.91,368.67 L615.03,365.98 L612.15,363.29 L609.27,360.61 L606.39,357.93 L603.52,355.25 L600.64,352.58 L597.76,349.92 L594.88,347.26 L592.00,344.61 L589.12,341.96 L586.24,339.31 L583.36,336.67 L580.48,334.04 L577.60,331.41 L574.72,328.79 L571.84,326.17 L568.96,323.56 L566.08,320.95 L563.20,318.35 L560.32,315.75 L557.44,313.16 L554.57,310.58 L551.69,308.00 L548.81,305.43 L545.93,302.86 L543.05,300.30 L540.17,297.75 L537.29,295.20 L534.41,292.65 L531.53,290.12 L528.65,287.59 L525.77,285.07 L522.89,282.55 L520.01,280.04 L517.13,277.53 L514.25,275.04 L511.37,272.55 L508.49,270.06 L505.62,267.59 L502.74,265.12 L499.86,262.65 L496.98,260.20 L494.10,257.75 L491.22,255.30 L488.34,252.87 L485.46,250.44 L482.58,248.02 L479.70,245.61 L476.82,243.20 L473.94,240.80 L471.06,238.41 L468.18,236.03 L465.30,233.65 L462.42,231.29 L459.55,228.93 L456.67,226.57 L453.79,224.23 L450.91,221.89 L448.03,219.57 L445.15,217.25 L442.27,214.93 L439.39,212.63 L436.51,210.33 L433.63,208.05 L430.75,205.77 L427.87,203.50 L424.99,201.23 L422.11,198.98 L419.23,196.74 L416.35,194.50 L413.47,192.27 L410.60,190.05 L407.72,187.84 L404.84,185.64 L401.96,183.45 L399.08,181.27 L396.20,179.10 L393.32,176.93 L390.44,174.78 L387.56,172.63 L384.68,170.49 L381.80,168.37 L378.92,166.25 L376.04,164.14 L373.16,162.04 L370.28,159.95 L367.40,157.87 L364.53,155.80 L361.65,153.75 L358.77,151.70 L355.89,149.66 L353.01,147.63 L350.13,145.61 L347.25,143.60 L344.37,141.60 L341.49,139.61 L338.61,137.63 L335.73,135.66 L332.85,133.70 L329.97,131.76 L327.09,129.82 L324.21,127.89 L321.33,125.98 L318.45,124.07 L315.58,122.18 L312.70,120.30 L309.82,118.43 L306.94,116.57 L304.06,114.72 L301.18,112.88 L298.30,111.05 L295.42,109.23 L292.54,107.43 L289.66,105.63 L286.78,103.85 L283.90,102.08 L281.02,100.32 L278.14,98.57 L275.26,96.84 L272.38,95.11 L269.51,93.40 L266.63,91.70 L263.75,90.01 L260.87,88.34 L257.99,86.67 L255.11,85.02 L252.23,83.38 L249.35,81.75 L246.47,80.14 L243.59,78.53 L240.71,76.94 L237.83,75.36 L234.95,73.80 L232.07,72.24 L229.19,70.70 L226.31,69.17 L223.43,67.66 L220.56,66.16 L217.68,64.67 L214.80,63.19 L211.92,61.73 L209.04,60.28 L206.16,58.84 L203.28,57.41 L200.40,56.00 L197.52,54.60 L194.64,53.22 L191.76,51.85 L188.88,50.49 L186.00,49.15 L183.12,47.82 L180.24,46.50 L177.36,45.20 L174.48,43.91 L171.61,42.63 L168.73,41.37 L165.85,40.13 L162.97,38.89 L160.09,37.67 L157.21,36.47 L154.33,35.28 L151.45,34.10 L148.57,32.94 L145.69,31.79 L142.81,30.66 L139.93,29.54 L137.05,28.44 L134.17,27.35 L131.29,26.27 L128.41,25.21 L125.54,24.17 L122.66,23.14 L119.78,22.12 L116.90,21.12 L114.02,20.14 L111.14,19.17 L108.26,18.21 L105.38,17.27 L102.50,16.35 Z" fill="#ff0000"/>
</g>
<g mask="url(#mdd)">
<path d="M102.50,11.65 L105.38,13.76 L108.26,15.89 L111.14,18.03 L114.02,20.18 L116.90,22.34 L119.78,24.52 L122.66,26.71 L125.54,28.92 L128.41,31.13 L131.29,33.36 L134.17,35.60 L137.05,37.86 L139.93,40.13 L142.81,42.41 L145.69,44.70 L148.57,47.01 L151.45,49.32 L154.33,51.66 L157.21,54.00 L160.09,56.35 L162.97,58.72 L165.85,61.10 L168.73,63.49 L171.61,65.90 L174.48,68.31 L177.36,70.74 L180.24,73.18 L183.12,75.63 L186.00,78.09 L188.88,80.57 L191.76,83.05 L194.64,85.55 L197.52,88.06 L200.40,90.58 L203.28,93.11 L206.16,95.66 L209.04,98.21 L211.92,100.78 L214.80,103.35 L217.68,105.94 L220.56,108.54 L223.43,111.15 L226.31,113.77 L229.19,116.41 L232.07,119.05 L234.95,121.70 L237.83,124.37 L240.71,127.04 L243.59,129.73 L246.47,132.42 L249.35,135.13 L252.23,137.85 L255.11,140.57 L257.99,143.31 L260.87,146.06 L263.75,148.82 L266.63,151.59 L269.51,154.36 L272.38,157.15 L275.26,159.95 L278.14,162.76 L281.02,165.58 L283.90,168.40 L286.78,171.24 L289.66,174.09 L292.54,176.94 L295.42,179.81 L298.30,182.68 L301.18,185.57 L304.06,188.46 L306.94,191.37 L309.82,194.28 L312.70,197.20 L315.58,200.13 L318.45,203.07 L321.33,206.02 L324.21,208.98 L327.09,211.95 L329.97,214.92 L332.85,217.91 L335.73,220.90 L338.61,223.90 L341.49,226.91 L344.37,229.93 L347.25,232.96 L350.13,235.99 L353.01,239.04 L355.89,242.09 L358.77,245.15 L361.65,248.22 L364.53,251.30 L367.40,254.38 L370.28,257.47 L373.16,260.58 L376.04,263.68 L378.92,266.80 L381.80,269.93 L384.68,273.06 L387.56,276.20 L390.44,279.34 L393.32,282.50 L396.20,285.66 L399.08,288.83 L401.96,292.01 L404.84,295.19 L407.72,298.39 L410.60,301.58 L413.47,304.79 L416.35,308.00 L419.23,311.22 L422.11,314.45 L424.99,317.68 L427.87,320.92 L430.75,324.17 L433.63,327.43 L436.51,330.69 L439.39,333.95 L442.27,337.23 L445.15,340.51 L448.03,343.80 L450.91,347.09 L453.79,350.39 L456.67,353.69 L459.55,357.01 L462.42,360.32 L465.30,363.65 L468.18,366.98 L471.06,370.31 L473.94,373.66 L476.82,377.00 L479.70,380.36 L482.58,383.72 L485.46,387.08 L488.34,390.45 L491.22,393.83 L494.10,397.21 L496.98,400.60 L499.86,403.99 L502.74,407.39 L505.62,410.79 L508.49,414.20 L511.37,417.61 L514.25,421.03 L517.13,424.45 L520.01,427.88 L522.89,431.32 L525.77,434.75 L528.65,438.20 L531.53,441.65 L534.41,445.10 L537.29,448.55 L540.17,452.02 L543.05,455.48 L545.93,458.95 L548.81,462.43 L551.69,465.91 L554.57,469.39 L557.44,472.88 L560.32,476.37 L563.20,479.86 L566.08,483.36 L568.96,486.87 L571.84,490.37 L574.72,493.89 L577.60,497.40 L580.48,500.92 L583.36,504.44 L586.24,507.97 L589.12,511.50 L592.00,515.03 L594.88,518.57 L597.76,522.11 L600.64,525.65 L603.52,529.20 L606.39,532.75 L609.27,536.30 L612.15,539.86 L615.03,543.42 L617.91,546.98 L620.79,550.54 L623.67,554.11 L626.55,557.68 L629.43,561.26 L632.31,564.83 L635.19,568.41 L638.07,571.99 L640.95,575.58 L643.83,579.16 L646.71,582.75 L649.59,586.34 L652.46,589.93 L655.34,593.53 L658.22,597.13 L661.10,600.73 L663.98,604.33 L666.86,607.93 L669.74,611.54 L672.62,615.15 L675.50,618.75 L675.50,623.45 L672.62,619.85 L669.74,616.24 L666.86,612.63 L663.98,609.03 L661.10,605.43 L658.22,601.83 L655.34,598.23 L652.46,594.63 L649.59,591.04 L646.71,587.45 L643.83,583.86 L640.95,580.28 L638.07,576.69 L635.19,573.11 L632.31,569.53 L629.43,565.96 L626.55,562.38 L623.67,558.81 L620.79,555.24 L617.91,551.68 L615.03,548.12 L612.15,544.56 L609.27,541.00 L606.39,537.45 L603.52,533.90 L600.64,530.35 L597.76,526.81 L594.88,523.27 L592.00,519.73 L589.12,516.20 L586.24,512.67 L583.36,509.14 L580.48,505.62 L577.60,502.10 L574.72,498.59 L571.84,495.07 L568.96,491.57 L566.08,488.06 L563.20,484.56 L560.32,481.07 L557.44,477.58 L554.57,474.09 L551.69,470.61 L548.81,467.13 L545.93,463.65 L543.05,460.18 L540.17,456.72 L537.29,453.25 L534.41,449.80 L531.53,446.35 L528.65,442.90 L525.77,439.45 L522.89,436.02 L520.01,432.58 L517.13,429.15 L514.25,425.73 L511.37,422.31 L508.49,418.90 L505.62,415.49 L502.74,412.09 L499.86,408.69 L496.98,405.30 L494.10,401.91 L491.22,398.53 L488.34,395.15 L485.46,391.78 L482.58,388.42 L479.70,385.06 L476.82,381.70 L473.94,378.36 L471.06,375.01 L468.18,371.68 L465.30,368.35 L462.42,365.02 L459.55,361.71 L456.67,358.39 L453.79,355.09 L450.91,351.79 L448.03,348.50 L445.15,345.21 L442.27,341.93 L439.39,338.65 L436.51,335.39 L433.63,332.13 L430.75,328.87 L427.87,325.62 L424.99,322.38 L422.11,319.15 L419.23,315.92 L416.35,312.70 L413.47,309.49 L410.60,306.28 L407.72,303.09 L404.84,299.89 L401.96,296.71 L399.08,293.53 L396.20,290.36 L393.32,287.20 L390.44,284.04 L387.56,280.90 L384.68,277.76 L381.80,274.63 L378.92,271.50 L376.04,268.38 L373.16,265.28 L370.28,262.17 L367.40,259.08 L364.53,256.00 L361.65,252.92 L358.77,249.85 L355.89,246.79 L353.01,243.74 L350.13,240.69 L347.25,237.66 L344.37,234.63 L341.49,231.61 L338.61,228.60 L335.73,225.60 L332.85,222.61 L329.97,219.62 L327.09,216.65 L324.21,213.68 L321.33,210.72 L318.45,207.77 L315.58,204.83 L312.70,201.90 L309.82,198.98 L306.94,196.07 L304.06,193.16 L301.18,190.27 L298.30,187.38 L295.42,184.51 L292.54,181.64 L289.66,178.79 L286.78,175.94 L283.90,173.10 L281.02,170.28 L278.14,167.46 L275.26,164.65 L272.38,161.85 L269.51,159.06 L266.63,156.29 L263.75,153.52 L260.87,150.76 L257.99,148.01 L255.11,145.27 L252.23,142.55 L249.35,139.83 L246.47,137.12 L243.59,134.43 L240.71,131.74 L237.83,129.07 L234.95,126.40 L232.07,123.75 L229.19,121.11 L226.31,118.47 L223.43,115.85 L220.56,113.24 L217.68,110.64 L214.80,108.05 L211.92,105.48 L209.04,102.91 L206.16,100.36 L203.28,97.81 L200.40,95.28 L197.52,92.76 L194.64,90.25 L191.76,87.75 L188.88,85.27 L186.00,82.79 L183.12,80.33 L180.24,77.88 L177.36,75.44 L174.48,73.01 L171.61,70.60 L168.73,68.19 L165.85,65.80 L162.97,63.42 L160.09,61.05 L157.21,58.70 L154.33,56.36 L151.45,54.02 L148.57,51.71 L145.69,49.40 L142.81,47.11 L139.93,44.83 L137.05,42.56 L134.17,40.30 L131.29,38.06 L128.41,35.83 L125.54,33.62 L122.66,31.41 L119.78,29.22 L116.90,27.04 L114.02,24.88 L111.14,22.73 L108.26,20.59 L105.38,18.46 L102.50,16.35 Z" fill="#000000"/>
<path d="M102.50,11.65 L105.38,13.15 L108.26,14.66 L111.14,16.18 L114.02,17.72 L116.90,19.27 L119.78,20.83 L122.66,22.41 L125.54,24.00 L128.41,25.60 L131.29,27.22 L134.17,28.85 L137.05,30.49 L139.93,32.15 L142.81,33.82 L145.69,35.51 L148.57,37.20 L151.45,38.91 L154.33,40.63 L157.21,42.37 L160.09,44.12 L162.97,45.88 L165.85,47.65 L168.73,49.44 L171.61,51.24 L174.48,53.05 L177.36,54.87 L180.24,56.71 L183.12,58.55 L186.00,60.42 L188.88,62.29 L191.76,64.17 L194.64,66.07 L197.52,67.98 L200.40,69.90 L203.28,71.84 L206.16,73.78 L209.04,75.74 L211.92,77.71 L214.80,79.69 L217.68,81.68 L220.56,83.69 L223.43,85.71 L226.31,87.73 L229.19,89.77 L232.07,91.82 L234.95,93.89 L237.83,95.96 L240.71,98.05 L243.59,100.14 L246.47,102.25 L249.35,104.37 L252.23,106.50 L255.11,108.64 L257.99,110.80 L260.87,112.96 L263.75,115.13 L266.63,117.32 L269.51,119.52 L272.38,121.72 L275.26,123.94 L278.14,126.17 L281.02,128.41 L283.90,130.66 L286.78,132.92 L289.66,135.19 L292.54,137.47 L295.42,139.76 L298.30,142.06 L301.18,144.37 L304.06,146.70 L306.94,149.03 L309.82,151.37 L312.70,153.72 L315.58,156.09 L318.45,158.46 L321.33,160.84 L324.21,163.23 L327.09,165.64 L329.97,168.05 L332.85,170.47 L335.73,172.90 L338.61,175.34 L341.49,177.79 L344.37,180.25 L347.25,182.72 L350.13,185.20 L353.01,187.69 L355.89,190.19 L358.77,192.69 L361.65,195.21 L364.53,197.73 L367.40,200.27 L370.28,202.81 L373.16,205.36 L376.04,207.92 L378.92,210.49 L381.80,213.07 L384.68,215.66 L387.56,218.26 L390.44,220.86 L393.32,223.47 L396.20,226.10 L399.08,228.73 L401.96,231.37 L404.84,234.01 L407.72,236.67 L410.60,239.33 L413.47,242.01 L416.35,244.69 L419.23,247.37 L422.11,250.07 L424.99,252.78 L427.87,255.49 L430.75,258.21 L433.63,260.94 L436.51,263.68 L439.39,266.42 L442.27,269.17 L445.15,271.93 L448.03,274.70 L450.91,277.47 L453.79,280.26 L456.67,283.05 L459.55,285.84 L462.42,288.65 L465.30,291.46 L468.18,294.28 L471.06,297.11 L473.94,299.94 L476.82,302.78 L479.70,305.63 L482.58,308.49 L485.46,311.35 L488.34,314.22 L491.22,317.09 L494.10,319.98 L496.98,322.86 L499.86,325.76 L502.74,328.66 L505.62,331.57 L508.49,334.49 L511.37,337.41 L514.25,340.34 L517.13,343.28 L520.01,346.22 L522.89,349.17 L525.77,352.12 L528.65,355.08 L531.53,358.05 L534.41,361.02 L537.29,364.00 L540.17,366.98 L543.05,369.97 L545.93,372.97 L548.81,375.97 L551.69,378.98 L554.57,381.99 L557.44,385.01 L560.32,388.04 L563.20,391.07 L566.08,394.11 L568.96,397.15 L571.84,400.19 L574.72,403.25 L577.60,406.30 L580.48,409.37 L583.36,412.44 L586.24,415.51 L589.12,418.59 L592.00,421.67 L594.88,424.76 L597.76,427.85 L600.64,430.95 L603.52,434.05 L606.39,437.16 L609.27,440.28 L612.15,443.39 L615.03,446.51 L617.91,449.64 L620.79,452.77 L623.67,455.91 L626.55,459.05 L629.43,462.19 L632.31,465.34 L635.19,468.50 L638.07,471.65 L640.95,474.81 L643.83,477.98 L646.71,481.15 L649.59,484.32 L652.46,487.50 L655.34,490.68 L658.22,493.87 L661.10,497.06 L663.98,500.25 L666.86,503.45 L669.74,506.65 L672.62,509.85 L675.50,513.06 L675.50,517.76 L672.62,514.55 L669.74,511.35 L666.86,508.15 L663.98,504.95 L661.10,501.76 L658.22,498.57 L655.34,495.38 L652.46,492.20 L649.59,489.02 L646.71,485.85 L643.83,482.68 L640.95,479.51 L638.07,476.35 L635.19,473.20 L632.31,470.04 L629.43,466.89 L626.55,463.75 L623.67,460.61 L620.79,457.47 L617.91,454.34 L615.03,451.21 L612.15,448.09 L609.27,444.98 L606.39,441.86 L603.52,438.75 L600.64,435.65 L597.76,432.55 L594.88,429.46 L592.00,426.37 L589.12,423.29 L586.24,420.21 L583.36,417.14 L580.48,414.07 L577.60,411.00 L574.72,407.95 L571.84,404.89 L568.96,401.85 L566.08,398.81 L563.20,395.77 L560.32,392.74 L557.44,389.71 L554.57,386.69 L551.69,383.68 L548.81,380.67 L545.93,377.67 L543.05,374.67 L540.17,371.68 L537.29,368.70 L534.41,365.72 L531.53,362.75 L528.65,359.78 L525.77,356.82 L522.89,353.87 L520.01,350.92 L517.13,347.98 L514.25,345.04 L511.37,342.11 L508.49,339.19 L505.62,336.27 L502.74,333.36 L499.86,330.46 L496.98,327.56 L494.10,324.68 L491.22,321.79 L488.34,318.92 L485.46,316.05 L482.58,313.19 L479.70,310.33 L476.82,307.48 L473.94,304.64 L471.06,301.81 L468.18,298.98 L465.30,296.16 L462.42,293.35 L459.55,290.54 L456.67,287.75 L453.79,284.96 L450.91,282.17 L448.03,279.40 L445.15,276.63 L442.27,273.87 L439.39,271.12 L436.51,268.38 L433.63,265.64 L430.75,262.91 L427.87,260.19 L424.99,257.48 L422.11,254.77 L419.23,252.07 L416.35,249.39 L413.47,246.71 L410.60,244.03 L407.72,241.37 L404.84,238.71 L401.96,236.07 L399.08,233.43 L396.20,230.80 L393.32,228.17 L390.44,225.56 L387.56,222.96 L384.68,220.36 L381.80,217.77 L378.92,215.19 L376.04,212.62 L373.16,210.06 L370.28,207.51 L367.40,204.97 L364.53,202.43 L361.65,199.91 L358.77,197.39 L355.89,194.89 L353.01,192.39 L350.13,189.90 L347.25,187.42 L344.37,184.95 L341.49,182.49 L338.61,180.04 L335.73,177.60 L332.85,175.17 L329.97,172.75 L327.09,170.34 L324.21,167.93 L321.33,165.54 L318.45,163.16 L315.58,160.79 L312.70,158.42 L309.82,156.07 L306.94,153.73 L304.06,151.40 L301.18,149.07 L298.30,146.76 L295.42,144.46 L292.54,142.17 L289.66,139.89 L286.78,137.62 L283.90,135.36 L281.02,133.11 L278.14,130.87 L275.26,128.64 L272.38,126.42 L269.51,124.22 L266.63,122.02 L263.75,119.83 L260.87,117.66 L257.99,115.50 L255.11,113.34 L252.23,111.20 L249.35,109.07 L246.47,106.95 L243.59,104.84 L240.71,102.75 L237.83,100.66 L234.95,98.59 L232.07,96.52 L229.19,94.47 L226.31,92.43 L223.43,90.41 L220.56,88.39 L217.68,86.38 L214.80,84.39 L211.92,82.41 L209.04,80.44 L206.16,78.48 L203.28,76.54 L200.40,74.60 L197.52,72.68 L194.64,70.77 L191.76,68.87 L188.88,66.99 L186.00,65.12 L183.12,63.25 L180.24,61.41 L177.36,59.57 L174.48,57.75 L171.61,55.94 L168.73,54.14 L165.85,52.35 L162.97,50.58 L160.09,48.82 L157.21,47.07 L154.33,45.33 L151.45,43.61 L148.57,41.90 L145.69,40.21 L142.81,38.52 L139.93,36.85 L137.05,35.19 L134.17,33.55 L131.29,31.92 L128.41,30.30 L125.54,28.70 L122.66,27.11 L119.78,25.53 L116.90,23.97 L114.02,22.42 L111.14,20.88 L108.26,19.36 L105.38,17.85 L102.50,16.35 Z" fill="#ff0000"/>
<path d="M102.50,11.65 L105.38,12.67 L108.26,13.70 L111.14,14.75 L114.02,15.82 L116.90,16.91 L119.78,18.02 L122.66,19.15 L125.54,20.29 L128.41,21.45 L131.29,22.64 L134.17,23.83 L137.05,25.05 L139.93,26.28 L142.81,27.54 L145.69,28.81 L148.57,30.09 L151.45,31.40 L154.33,32.72 L157.21,34.06 L160.09,35.42 L162.97,36.79 L165.85,38.18 L168.73,39.59 L171.61,41.01 L174.48,42.45 L177.36,43.91 L180.24,45.39 L183.12,46.88 L186.00,48.39 L188.88,49.91 L191.76,51.45 L194.64,53.01 L197.52,54.58 L200.40,56.17 L203.28,57.78 L206.16,59.40 L209.04,61.04 L211.92,62.69 L214.80,64.36 L217.68,66.04 L220.56,67.74 L223.43,69.46 L226.31,71.19 L229.19,72.94 L232.07,74.70 L234.95,76.48 L237.83,78.27 L240.71,80.07 L243.59,81.90 L246.47,83.73 L249.35,85.58 L252.23,87.45 L255.11,89.33 L257.99,91.23 L260.87,93.14 L263.75,95.06 L266.63,97.00 L269.51,98.95 L272.38,100.92 L275.26,102.90 L278.14,104.90 L281.02,106.91 L283.90,108.93 L286.78,110.97 L289.66,113.02 L292.54,115.08 L295.42,117.16 L298.30,119.25 L301.18,121.35 L304.06,123.47 L306.94,125.60 L309.82,127.75 L312.70,129.90 L315.58,132.07 L318.45,134.26 L321.33,136.45 L324.21,138.66 L327.09,140.88 L329.97,143.11 L332.85,145.36 L335.73,147.62 L338.61,149.89 L341.49,152.17 L344.37,154.47 L347.25,156.78 L350.13,159.10 L353.01,161.43 L355.89,163.77 L358.77,166.13 L361.65,168.49 L364.53,170.87 L367.40,173.26 L370.28,175.66 L373.16,178.08 L376.04,180.50 L378.92,182.94 L381.80,185.38 L384.68,187.84 L387.56,190.31 L390.44,192.79 L393.32,195.28 L396.20,197.78 L399.08,200.29 L401.96,202.82 L404.84,205.35 L407.72,207.89 L410.60,210.45 L413.47,213.01 L416.35,215.59 L419.23,218.17 L422.11,220.76 L424.99,223.37 L427.87,225.98 L430.75,228.61 L433.63,231.24 L436.51,233.89 L439.39,236.54 L442.27,239.20 L445.15,241.87 L448.03,244.56 L450.91,247.25 L453.79,249.95 L456.67,252.66 L459.55,255.37 L462.42,258.10 L465.30,260.84 L468.18,263.58 L471.06,266.34 L473.94,269.10 L476.82,271.87 L479.70,274.65 L482.58,277.44 L485.46,280.23 L488.34,283.04 L491.22,285.85 L494.10,288.67 L496.98,291.50 L499.86,294.33 L502.74,297.18 L505.62,300.03 L508.49,302.89 L511.37,305.76 L514.25,308.63 L517.13,311.51 L520.01,314.40 L522.89,317.30 L525.77,320.20 L528.65,323.12 L531.53,326.03 L534.41,328.96 L537.29,331.89 L540.17,334.83 L543.05,337.78 L545.93,340.73 L548.81,343.69 L551.69,346.65 L554.57,349.62 L557.44,352.60 L560.32,355.59 L563.20,358.58 L566.08,361.58 L568.96,364.58 L571.84,367.59 L574.72,370.60 L577.60,373.62 L580.48,376.65 L583.36,379.68 L586.24,382.72 L589.12,385.76 L592.00,388.81 L594.88,391.86 L597.76,394.92 L600.64,397.99 L603.52,401.06 L606.39,404.13 L609.27,407.21 L612.15,410.29 L615.03,413.38 L617.91,416.47 L620.79,419.57 L623.67,422.67 L626.55,425.78 L629.43,428.89 L632.31,432.01 L635.19,435.13 L638.07,438.25 L640.95,441.38 L643.83,444.51 L646.71,447.65 L649.59,450.79 L652.46,453.93 L655.34,457.08 L658.22,460.23 L661.10,463.38 L663.98,466.54 L666.86,469.70 L669.74,472.87 L672.62,476.04 L675.50,479.21 L675.50,483.91 L672.62,480.74 L669.74,477.57 L666.86,474.40 L663.98,471.24 L661.10,468.08 L658.22,464.93 L655.34,461.78 L652.46,458.63 L649.59,455.49 L646.71,452.35 L643.83,449.21 L640.95,446.08 L638.07,442.95 L635.19,439.83 L632.31,436.71 L629.43,433.59 L626.55,430.48 L623.67,427.37 L620.79,424.27 L617.91,421.17 L615.03,418.08 L612.15,414.99 L609.27,411.91 L606.39,408.83 L603.52,405.76 L600.64,402.69 L597.76,399.62 L594.88,396.56 L592.00,393.51 L589.12,390.46 L586.24,387.42 L583.36,384.38 L580.48,381.35 L577.60,378.32 L574.72,375.30 L571.84,372.29 L568.96,369.28 L566.08,366.28 L563.20,363.28 L560.32,360.29 L557.44,357.30 L554.57,354.32 L551.69,351.35 L548.81,348.39 L545.93,345.43 L543.05,342.48 L540.17,339.53 L537.29,336.59 L534.41,333.66 L531.53,330.73 L528.65,327.82 L525.77,324.90 L522.89,322.00 L520.01,319.10 L517.13,316.21 L514.25,313.33 L511.37,310.46 L508.49,307.59 L505.62,304.73 L502.74,301.88 L499.86,299.03 L496.98,296.20 L494.10,293.37 L491.22,290.55 L488.34,287.74 L485.46,284.93 L482.58,282.14 L479.70,279.35 L476.82,276.57 L473.94,273.80 L471.06,271.04 L468.18,268.28 L465.30,265.54 L462.42,262.80 L459.55,260.07 L456.67,257.36 L453.79,254.65 L450.91,251.95 L448.03,249.26 L445.15,246.57 L442.27,243.90 L439.39,241.24 L436.51,238.59 L433.63,235.94 L430.75,233.31 L427.87,230.68 L424.99,228.07 L422.11,225.46 L419.23,222.87 L416.35,220.29 L413.47,217.71 L410.60,215.15 L407.72,212.59 L404.84,210.05 L401.96,207.52 L399.08,204.99 L396.20,202.48 L393.32,199.98 L390.44,197.49 L387.56,195.01 L384.68,192.54 L381.80,190.08 L378.92,187.64 L376.04,185.20 L373.16,182.78 L370.28,180.36 L367.40,177.96 L364.53,175.57 L361.65,173.19 L358.77,170.83 L355.89,168.47 L353.01,166.13 L350.13,163.80 L347.25,161.48 L344.37,159.17 L341.49,156.87 L338.61,154.59 L335.73,152.32 L332.85,150.06 L329.97,147.81 L327.09,145.58 L324.21,143.36 L321.33,141.15 L318.45,138.96 L315.58,136.77 L312.70,134.60 L309.82,132.45 L306.94,130.30 L304.06,128.17 L301.18,126.05 L298.30,123.95 L295.42,121.86 L292.54,119.78 L289.66,117.72 L286.78,115.67 L283.90,113.63 L281.02,111.61 L278.14,109.60 L275.26,107.60 L272.38,105.62 L269.51,103.65 L266.63,101.70 L263.75,99.76 L260.87,97.84 L257.99,95.93 L255.11,94.03 L252.23,92.15 L249.35,90.28 L246.47,88.43 L243.59,86.60 L240.71,84.77 L237.83,82.97 L234.95,81.18 L232.07,79.40 L229.19,77.64 L226.31,75.89 L223.43,74.16 L220.56,72.44 L217.68,70.74 L214.80,69.06 L211.92,67.39 L209.04,65.74 L206.16,64.10 L203.28,62.48 L200.40,60.87 L197.52,59.28 L194.64,57.71 L191.76,56.15 L188.88,54.61 L186.00,53.09 L183.12,51.58 L180.24,50.09 L177.36,48.61 L174.48,47.15 L171.61,45.71 L168.73,44.29 L165.85,42.88 L162.97,41.49 L160.09,40.12 L157.21,38.76 L154.33,37.42 L151.45,36.10 L148.57,34.79 L145.69,33.51 L142.81,32.24 L139.93,30.98 L137.05,29.75 L134.17,28.53 L131.29,27.34 L128.41,26.15 L125.54,24.99 L122.66,23.85 L119.78,22.72 L116.90,21.61 L114.02,20.52 L111.14,19.45 L108.26,18.40 L105.38,17.37 L102.50,16.35 Z" fill="#00ff00"/>
</g>
</g>
<rect x="102.5" y="14" width="573" height="608.3" fill="none" stroke="#262626" stroke-width="1.2"/>
<path d="M217.10,622.3 V614.3 M217.10,14 V22 M331.70,622.3 V614.3 M331.70,14 V22 M446.30,622.3 V614.3 M446.30,14 V22 M560.90,622.3 V614.3 M560.90,14 V22 M102.5,159.15 H108.5 M675.5,159.15 H669.5 M102.5,304.30 H108.5 M675.5,304.30 H669.5 M102.5,449.45 H108.5 M675.5,449.45 H669.5 M102.5,594.60 H108.5 M675.5,594.60 H669.5" stroke="#262626" stroke-width="1.1" fill="none"/>
<text transform="translate(92,27.6) scale(1,1.42)" font-size="26" text-anchor="end">0</text>
<text transform="translate(92,173.9) scale(1,1.42)" font-size="26" text-anchor="end">-5</text>
<text transform="translate(92,318.2) scale(1,1.42)" font-size="26" text-anchor="end">-10</text>
<text transform="translate(92,464.6) scale(1,1.42)" font-size="26" text-anchor="end">-15</text>
<text transform="translate(92,609.8) scale(1,1.42)" font-size="26" text-anchor="end">-20</text>
<text transform="translate(102.5,672) scale(1,1.42)" font-size="26" text-anchor="middle">0</text>
<text transform="translate(217.1,672) scale(1,1.42)" font-size="26" text-anchor="middle">1</text>
<text transform="translate(331.7,672) scale(1,1.42)" font-size="26" text-anchor="middle">2</text>
<text transform="translate(446.29999999999995,672) scale(1,1.42)" font-size="26" text-anchor="middle">3</text>
<text transform="translate(560.9,672) scale(1,1.42)" font-size="26" text-anchor="middle">4</text>
<text transform="translate(677.0,672) scale(1,1.42)" font-size="26" text-anchor="middle">5</text>
<path d="M381.3,714 C382.3,709.6 384.3,706.9 386.9,707.1 C389.6,707.4 390.6,712.5 391.3,719.8 M395.8,707.2 C394.6,711 393.2,715 392.4,718.8 C391.5,722.8 390.8,726.8 390.3,731" fill="none" stroke="#333" stroke-width="1.3" stroke-linecap="round"/>
<text transform="translate(435.5,105.2) scale(1,1.44)" font-size="25" text-anchor="start">S=1, 2,&#160; 3</text>
<text transform="translate(122,233.1) scale(1,1.44)" font-size="26" text-anchor="start">Pr=6.2, <tspan class="s" fill="#555">β</tspan>=<tspan class="s" font-size="28" dx="1">π</tspan><tspan dx="1">/4,</tspan></text>
<text transform="translate(122,288.5) scale(1,1.44)" font-size="26" text-anchor="start">M=10<tspan font-size="19" dy="-10">-6</tspan><tspan dy="10">, Rd=1</tspan></text>
<text transform="translate(216,466) scale(1,1.42)" font-size="26" text-anchor="start">Cu-Al<tspan font-size="21" dy="11.5">2</tspan><tspan dy="-11.5">O</tspan><tspan font-size="21" dy="11.5">3</tspan><tspan dy="-11.5">/H</tspan><tspan font-size="21" dy="11.5">2</tspan><tspan dy="-11.5">O-C</tspan><tspan font-size="21" dy="11.5">2</tspan><tspan dy="-11.5">H</tspan><tspan font-size="21" dy="11.5">6</tspan><tspan dy="-11.5">O</tspan><tspan font-size="21" dy="11.5">2</tspan></text>
<text transform="translate(216,527.1) scale(1,1.42)" font-size="26" text-anchor="start">Cu-Al<tspan font-size="21" dy="11.5">2</tspan><tspan dy="-11.5">O</tspan><tspan font-size="21" dy="11.5">3</tspan><tspan dy="-11.5">/H</tspan><tspan font-size="21" dy="11.5">2</tspan><tspan dy="-11.5">O</tspan></text>
<text transform="translate(214.5,588.1) scale(1,1.42)" font-size="26" text-anchor="start">Al<tspan font-size="21" dy="11.5">2</tspan><tspan dy="-11.5">O</tspan><tspan font-size="21" dy="11.5">3</tspan><tspan dy="-11.5">/H</tspan><tspan font-size="21" dy="11.5">2</tspan><tspan dy="-11.5">O</tspan></text>
<path d="M113.8,461 L207.8,459.1" stroke="#000" stroke-width="4.5" stroke-dasharray="10.5 2.9 5.1 3" fill="none"/>
<path d="M113.8,515.6 L210.5,514.5" stroke="#000" stroke-width="4.5" stroke-dasharray="10.8 10.7" fill="none"/>
<path d="M107.9,582.5 L210.4,578.1" stroke="#000" stroke-width="4.5" fill="none"/>
<path d="M424.5,385.3 L461.5,150" stroke="#000" stroke-width="3.3" fill="none"/>
<path d="M465,131.8 L455.4,153.3 L462.8,149.8 L467.7,156.8 Z" fill="#000" stroke="#000" stroke-width="1" stroke-linejoin="round"/>
<text transform="translate(32,429.0) rotate(-90) scale(1.337,1)" font-size="28">1/2(Re</text>
<text transform="translate(45.7,316.0) rotate(-90) scale(1.41,1)" font-size="21">x</text>
<text transform="translate(31.6,300.8) rotate(-90) scale(1.45,1)" font-size="28">)</text>
<text transform="translate(19,287.4) rotate(-90) scale(1.36,1)" font-size="22">1/2</text>
<text transform="translate(31.5,245.9) rotate(-90) scale(1.36,1)" font-size="28">C</text>
<text transform="translate(44.8,217.0) rotate(-90) scale(1.36,1)" font-size="20">f</text>
</svg></body></html>
